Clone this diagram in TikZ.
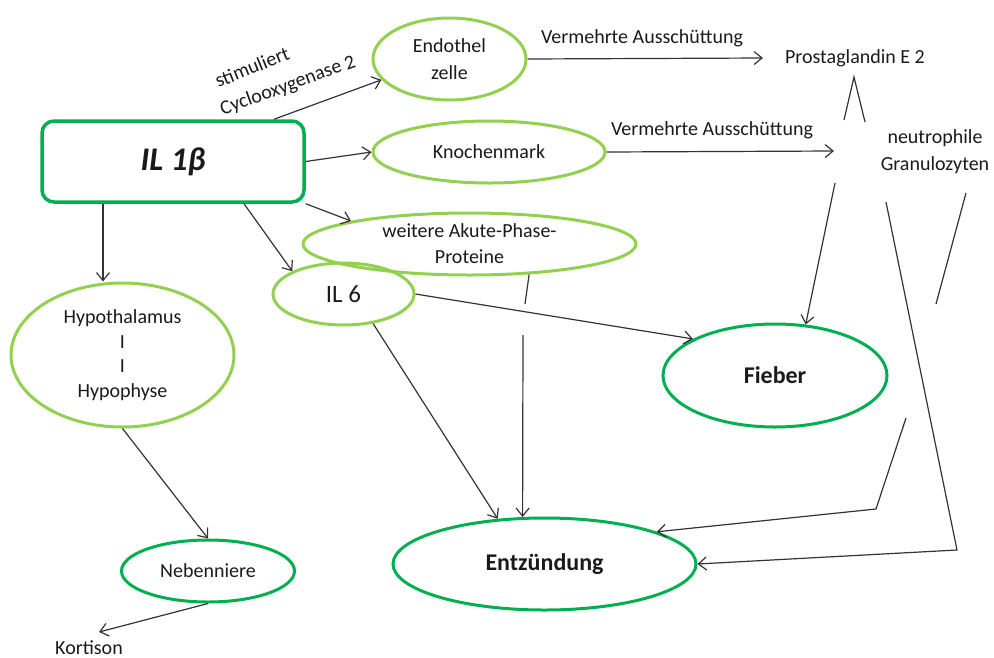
\documentclass[tikz,border=0pt]{standalone}
\usepackage{fontspec}
\setmainfont{Carlito}
\usetikzlibrary{shapes.geometric,arrows.meta}
\definecolor{lgreen}{HTML}{92D050}
\definecolor{dgreen}{HTML}{00B050}
\definecolor{lnc}{HTML}{333333}
\definecolor{txt}{HTML}{1A1A1A}
\begin{document}
\begin{tikzpicture}[x=1pt,y=-1pt,
  sm/.style={font=\fontsize{20}{26}\selectfont, text=txt, inner sep=1pt},
  lgell/.style={ellipse, draw=lgreen, line width=3pt, inner sep=0pt, text=txt, align=center},
  dgell/.style={ellipse, draw=dgreen, line width=3pt, inner sep=0pt, text=txt, align=center},
  dgbox/.style={rectangle, rounded corners=12pt, draw=dgreen, line width=3.5pt, text=txt},
  arr/.style={draw=lnc, line width=1.2pt, -{Straight Barb[length=8pt,width=13pt]}},
  plain/.style={draw=lnc, line width=1.2pt}]
\useasboundingbox (0,0) rectangle (994,657);

% nodes
\node[dgbox, minimum width=262pt, minimum height=81pt] (il1) at (173,161.5)
  {\fontsize{33}{36}\selectfont\bfseries\itshape IL 1β};
\node[lgell, minimum width=153pt, minimum height=82pt, font=\fontsize{20}{27}\selectfont] (endo) at (449.5,59) {Endothel\\zelle};
\node[lgell, minimum width=232pt, minimum height=62pt, font=\fontsize{20}{26}\selectfont] (knochen) at (489,152) {Knochenmark};
\node[lgell, minimum width=333pt, minimum height=62pt, font=\fontsize{20}{26}\selectfont] (weitere) at (469.5,244) {weitere Akute-Phase-\\Proteine};
\node[lgell, minimum width=141pt, minimum height=62pt, font=\fontsize{25}{30}\selectfont] (il6) at (343.5,294) {IL 6};
\node[lgell, minimum width=223pt, minimum height=144pt, font=\fontsize{20}{24.5}\selectfont] (hypo) at (122.5,355) {Hypothalamus\\I\\I\\Hypophyse};
\node[dgell, minimum width=224pt, minimum height=103pt, font=\fontsize{24}{28}\selectfont\bfseries] (fieber) at (775,375.5) {Fieber};
\node[dgell, minimum width=303pt, minimum height=92pt, font=\fontsize{24}{28}\selectfont\bfseries] (entz) at (544.5,564) {Entzündung};
\node[dgell, minimum width=173pt, minimum height=62pt, font=\fontsize{20}{26}\selectfont] (neben) at (208,571) {Nebenniere};

% free texts
\node[sm] (v1) at (642,38) {Vermehrte Ausschüttung};
\node[sm] (v2) at (712,130) {Vermehrte Ausschüttung};
\node[sm] (pg) at (855,58) {Prostaglandin E 2};
\node[sm, align=center, font=\fontsize{20}{27}\selectfont] (neu) at (935,152) {neutrophile\\Granulozyten};
\node[sm, rotate=22] (stim) at (252,67) {stimuliert};
\node[sm, rotate=20] (cox) at (288,86) {Cyclooxygenase 2};
\node[sm] (kort) at (89,648) {Kortison};

% free ends
\coordinate (pgin) at (763,58);
\coordinate (ngin) at (834,151);
\coordinate (pgA) at (844,120);
\coordinate (pgB) at (854,77);
\coordinate (pgC) at (865,122);
\coordinate (f1) at (835,183);
\coordinate (g1) at (886,202);
\coordinate (g2) at (957,550);
\coordinate (h1) at (966,193);
\coordinate (h2) at (936,304);
\coordinate (k1) at (906,418);
\coordinate (k2) at (876,509);
\coordinate (w1) at (525,304);
\coordinate (w2) at (523,335);
\coordinate (kt) at (99,632);
\coordinate (s1) at ([xshift=101pt]il1.north);
\coordinate (s4) at ([xshift=71pt]il1.south);
\coordinate (s5) at ([xshift=-70pt]il1.south);

% connectors
\draw[arr] (s1) -- (endo.197);
\draw[arr] (il1.east) -- (knochen.west);
\draw[arr] (il1.south east) -- (weitere.169);
\draw[arr] (s4) -- (il6.156);
\draw[arr] (s5) -- (s5 |- hypo.north);
\draw[arr] (endo.east) -- (pgin);
\draw[arr] (knochen.east) -- (ngin);
\draw[plain] (pgA) -- (pgB) -- (pgC);
\draw[arr] (f1) -- (fieber.59);
\draw[arr] (g1) -- (g2) -- (entz.east);
\draw[plain] (h1) -- (h2);
\draw[arr] (k1) -- (k2) -- (entz.16);
\draw[arr] (il6.east) -- (fieber.156);
\draw[plain] (weitere.-27) -- (w1);
\draw[arr] (w2) -- (entz.115);
\draw[arr] (il6.-45) -- (entz.136);
\draw[arr] (hypo.south) -- (neben.north);
\draw[arr] (neben.south) -- (kt);
\end{tikzpicture}
\end{document}
